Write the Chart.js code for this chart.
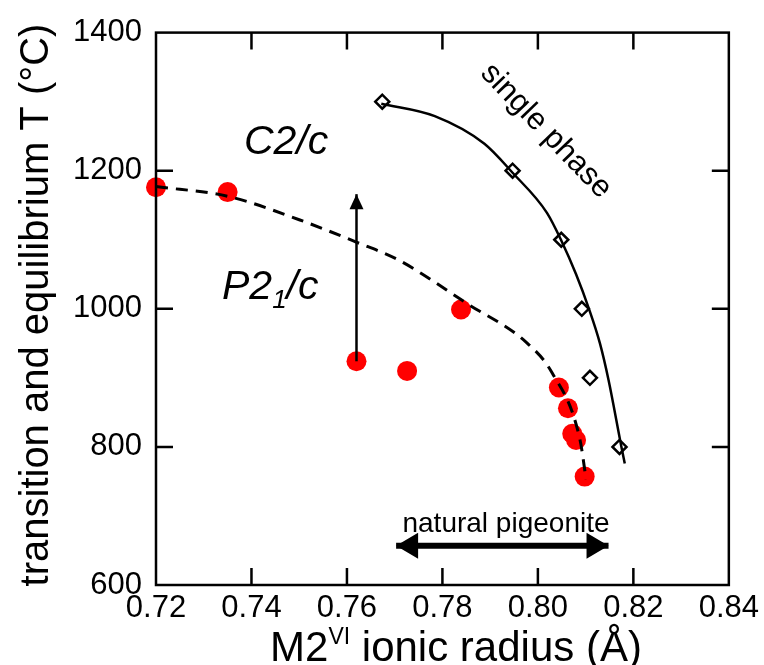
<!DOCTYPE html>
<html>
<head>
<meta charset="utf-8">
<script src="https://cdn.jsdelivr.net/npm/chart.js@4.4.0/dist/chart.umd.min.js"></script>
<style>
    body { margin: 0; background: #fff; }
    canvas { display: block; }
</style>
</head>
<body>
<canvas id="chart" width="764" height="665"></canvas>
<script>
// measured points (red circles)
const measuredX = [0.720, 0.735, 0.762, 0.7726, 0.7839, 0.8044, 0.8063, 0.8072, 0.8080, 0.8098];
const measuredT = [1176, 1169, 924, 910, 999, 886, 856, 819, 810, 757];

// single phase points (open diamonds)
const singleX = [0.7674, 0.7947, 0.8049, 0.8092, 0.8109, 0.8171];
const singleT = [1300, 1200, 1100, 1000, 900, 800];

// dashed transition curve
const dashX = [0.720, 0.735, 0.750, 0.7618, 0.7707, 0.7853, 0.7978, 0.8030, 0.8088, 0.8101];
const dashT = [1177, 1163, 1129, 1097, 1071, 1007, 950, 907, 811, 753];

// solid single phase curve
const solidX = [0.7672, 0.7784, 0.7888, 0.7947, 0.8019, 0.8049, 0.8080, 0.8107, 0.8130, 0.8148, 0.8175, 0.8182];
const solidT = [1297, 1279, 1239, 1197, 1139, 1099, 1050, 1000, 950, 897, 800, 776];

// arrows
const upArrowX = [0.762, 0.762];
const upArrowT = [924, 1166];
const pigeoniteX = [0.7703, 0.8148];
const pigeoniteT = [657, 657];

const xTicks = [0.72, 0.74, 0.76, 0.78, 0.80, 0.82, 0.84];
const yTicks = [600, 800, 1000, 1200, 1400];

const toPoints = (xs, ys) => xs.map((x, i) => ({ x: x, y: ys[i] }));
const FONT = 'Liberation Sans, Arial, sans-serif';

const decorations = {
    id: 'decorations',
    afterDatasetsDraw(chart) {
        const ctx = chart.ctx;
        const xs = chart.scales.x;
        const ys = chart.scales.y;
        const a = chart.chartArea;
        ctx.save();
        ctx.strokeStyle = '#000';
        ctx.fillStyle = '#000';

        // frame
        ctx.lineWidth = 2.5;
        ctx.strokeRect(a.left, a.top, a.right - a.left, a.bottom - a.top);

        // inward ticks on all sides
        const tl = 17;
        ctx.beginPath();
        xTicks.slice(1, -1).forEach(v => {
            const px = xs.getPixelForValue(v);
            ctx.moveTo(px, a.bottom); ctx.lineTo(px, a.bottom - tl);
            ctx.moveTo(px, a.top); ctx.lineTo(px, a.top + tl);
        });
        yTicks.slice(1, -1).forEach(v => {
            const py = ys.getPixelForValue(v);
            ctx.moveTo(a.left, py); ctx.lineTo(a.left + tl, py);
            ctx.moveTo(a.right, py); ctx.lineTo(a.right - tl, py);
        });
        ctx.stroke();

        // up arrow head
        let tx = xs.getPixelForValue(upArrowX[1]);
        let ty = ys.getPixelForValue(upArrowT[1]);
        ctx.beginPath();
        ctx.moveTo(tx, ty);
        ctx.lineTo(tx - 7, ty + 15);
        ctx.lineTo(tx + 7, ty + 15);
        ctx.closePath();
        ctx.fill();

        // natural pigeonite double arrow heads
        const lx = xs.getPixelForValue(pigeoniteX[0]);
        const rx = xs.getPixelForValue(pigeoniteX[1]);
        const py = ys.getPixelForValue(pigeoniteT[0]);
        ctx.beginPath();
        ctx.moveTo(lx, py);
        ctx.lineTo(lx + 22, py - 13);
        ctx.lineTo(lx + 22, py + 13);
        ctx.closePath();
        ctx.moveTo(rx, py);
        ctx.lineTo(rx - 22, py - 13);
        ctx.lineTo(rx - 22, py + 13);
        ctx.closePath();
        ctx.fill();

        // labels inside plot
        ctx.textBaseline = 'alphabetic';
        ctx.textAlign = 'left';
        ctx.font = 'italic 41px ' + FONT;
        ctx.fillText('C2/c', 244, 154);
        ctx.fillText('P2', 222, 299);
        let w = ctx.measureText('P2').width;
        ctx.font = 'italic 26px ' + FONT;
        ctx.fillText('1', 222 + w, 308);
        let w1 = ctx.measureText('1').width;
        ctx.font = 'italic 41px ' + FONT;
        ctx.fillText('/c', 222 + w + w1, 299);

        ctx.font = '28px ' + FONT;
        ctx.textAlign = 'center';
        ctx.fillText('natural pigeonite', 506, 532);

        ctx.save();
        ctx.translate(546, 131);
        ctx.rotate(46 * Math.PI / 180);
        ctx.font = '31px ' + FONT;
        ctx.textBaseline = 'middle';
        ctx.fillText('single phase', 0, 0);
        ctx.restore();

        // axis titles
        ctx.textBaseline = 'alphabetic';
        ctx.textAlign = 'left';
        const parts = [['M2', 42, 0], ['VI', 23, -17], [' ionic radius (Å)', 42, 0]];
        let total = 0;
        parts.forEach(p => { ctx.font = p[1] + 'px ' + FONT; total += ctx.measureText(p[0]).width; });
        let x = 456 - total / 2;
        parts.forEach(p => {
            ctx.font = p[1] + 'px ' + FONT;
            ctx.fillText(p[0], x, 661 + p[2]);
            x += ctx.measureText(p[0]).width;
        });

        ctx.save();
        ctx.translate(48, 305);
        ctx.rotate(-Math.PI / 2);
        ctx.font = '40px ' + FONT;
        ctx.textAlign = 'center';
        ctx.fillText('transition and equilibrium T (°C)', 0, 0);
        ctx.restore();

        ctx.restore();
    }
};

new Chart(document.getElementById('chart'), {
    type: 'scatter',
    data: {
        datasets: [
            {
                type: 'line',
                data: toPoints(pigeoniteX, pigeoniteT),
                borderColor: '#000',
                borderWidth: 6,
                pointRadius: 0,
                clip: false
            },
            {
                type: 'line',
                data: toPoints(upArrowX, upArrowT),
                borderColor: '#000',
                borderWidth: 2.5,
                pointRadius: 0,
                clip: false
            },
            {
                type: 'line',
                data: toPoints(dashX, dashT),
                borderColor: '#000',
                borderWidth: 3,
                borderDash: [12, 8],
                pointRadius: 0,
                cubicInterpolationMode: 'monotone',
                clip: false
            },
            {
                type: 'line',
                data: toPoints(solidX, solidT),
                borderColor: '#000',
                borderWidth: 2.5,
                pointRadius: 0,
                cubicInterpolationMode: 'monotone',
                clip: false
            },
            {
                data: toPoints(singleX, singleT),
                pointStyle: 'rectRot',
                pointRadius: 7,
                backgroundColor: '#fff',
                borderColor: '#000',
                borderWidth: 2.5,
                clip: false
            },
            {
                data: toPoints(measuredX, measuredT),
                pointRadius: 10,
                backgroundColor: '#ff0000',
                borderWidth: 0,
                clip: false
            }
        ]
    },
    options: {
        responsive: false,
        animation: false,
        layout: { padding: { left: 0, top: 25, right: 31, bottom: 0 } },
        plugins: {
            legend: { display: false },
            tooltip: { enabled: false }
        },
        scales: {
            x: {
                type: 'linear',
                min: 0.72,
                max: 0.84,
                afterBuildTicks: s => { s.ticks = xTicks.map(v => ({ value: v })); },
                afterFit: s => { s.height = 80; },
                ticks: {
                    callback: v => v.toFixed(2),
                    color: '#000',
                    font: { family: FONT, size: 31 },
                    padding: 5,
                    maxRotation: 0,
                    autoSkip: false
                },
                grid: { display: false, drawTicks: false },
                border: { display: false }
            },
            y: {
                min: 600,
                max: 1400,
                afterBuildTicks: s => { s.ticks = yTicks.map(v => ({ value: v })); },
                afterFit: s => { s.width = 156; },
                ticks: {
                    callback: v => String(v),
                    color: '#000',
                    font: { family: FONT, size: 31 },
                    padding: 14,
                    autoSkip: false
                },
                grid: { display: false, drawTicks: false },
                border: { display: false }
            }
        }
    },
    plugins: [decorations]
});
</script>
</body>
</html>
